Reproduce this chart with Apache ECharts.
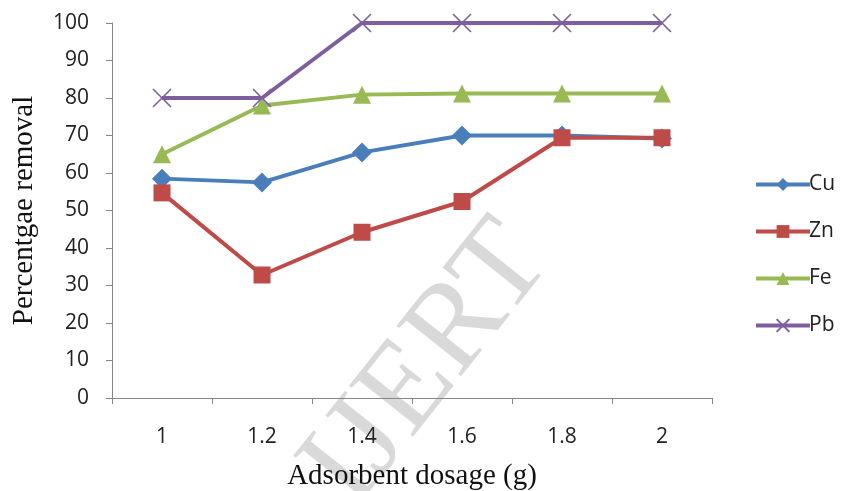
<!DOCTYPE html>
<html><head><meta charset="utf-8">
<script src="https://cdn.jsdelivr.net/npm/echarts@6/dist/echarts.min.js"></script>
<style>html,body{margin:0;padding:0;background:#fff}#c{width:842px;height:491px}</style>
</head><body><div id="c"></div>
<script>
const categories = ['1', '1.2', '1.4', '1.6', '1.8', '2'];
const cu = [58.5, 57.5, 65.5, 70, 70, 69.2];
const zn = [54.7, 32.8, 44.2, 52.4, 69.4, 69.4];
const fe = [65, 78, 80.9, 81.2, 81.2, 81.2];
const pb = [80, 80, 100, 100, 100, 100];
const yTicks = {min: 0, max: 100, interval: 10};

const chart = echarts.init(document.getElementById('c'));
const xPath = 'path://M0,0L10,10M10,0L0,10';
function s(name, data, color, symbol, size, extra) {
  return Object.assign({
    name, type: 'line', data, symbol, symbolSize: size,
    lineStyle: {color, width: 4},
    itemStyle: {color},
    emphasis: {disabled: true}
  }, extra || {});
}
chart.setOption({
  animation: false,
  grid: {left: 112, right: 130, top: 23, bottom: 93, containLabel: false, outerBoundsMode: 'none'},
  xAxis: {
    type: 'category', data: categories, boundaryGap: true,
    axisLine: {lineStyle: {color: '#868686', width: 1}},
    axisTick: {show: true, length: 6, lineStyle: {color: '#868686'}},
    axisLabel: {color: '#222', fontSize: 21, fontFamily: 'Open Sans', margin: 29},
    name: 'Adsorbent dosage (g)', nameLocation: 'middle', nameGap: 64,
    nameTextStyle: {color: '#111', fontSize: 29, fontFamily: 'Liberation Serif'}
  },
  yAxis: {
    type: 'value', min: yTicks.min, max: yTicks.max, interval: yTicks.interval,
    splitLine: {show: false},
    axisLine: {show: true, lineStyle: {color: '#868686', width: 1}},
    axisTick: {show: true, length: 6, lineStyle: {color: '#868686'}},
    axisLabel: {color: '#222', fontSize: 21, fontFamily: 'Open Sans', margin: 23},
    name: 'Percentgae removal', nameLocation: 'middle', nameGap: 73,
    nameTextStyle: {color: '#111', fontSize: 29, fontFamily: 'Liberation Serif'}
  },
  legend: {
    orient: 'vertical', left: 749, top: 169, itemGap: 26,
    itemWidth: 54, itemHeight: 16,
    lineStyle: {width: 4},
    textStyle: {fontSize: 21, fontFamily: 'Open Sans', color: '#222', padding: [0,0,0,-6]},
    data: ['Cu', 'Zn', 'Fe', 'Pb']
  },
  series: [
    s('Cu', cu, '#4A7EBB', 'diamond', 20),
    s('Zn', zn, '#BE4B48', 'rect', 17),
    s('Fe', fe, '#98B954', 'triangle', 18),
    s('Pb', pb, '#7D5FA0', xPath, 18, {
      itemStyle: {color: 'none', borderColor: '#7D5FA0', borderWidth: 1.6}
    })
  ],
  graphic: [{
    type: 'text', silent: true, rotation: 0.9,
    x: 428, y: 365,
    style: {text: 'IJERT', fontSize: 125, fontFamily: 'Liberation Serif', fill: 'rgba(160,160,160,0.4)', align: 'center', verticalAlign: 'middle'}
  }]
});
</script></body></html>
